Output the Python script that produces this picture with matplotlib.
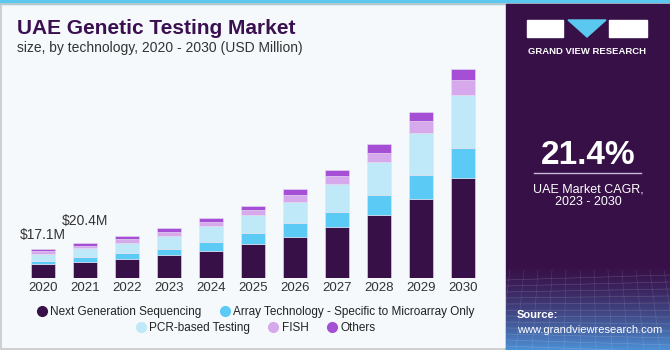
import numpy as np
import matplotlib.pyplot as plt
from matplotlib.patches import Rectangle, Polygon
from matplotlib.lines import Line2D

years = ['2020', '2021', '2022', '2023', '2024', '2025', '2026', '2027', '2028', '2029', '2030']
segments = ['Next Generation Sequencing', 'Array Technology - Specific to Microarray Only',
            'PCR-based Testing', 'FISH', 'Others']
ngs = [8.3, 9.4, 11.4, 13.6, 16.1, 20.2, 24.2, 29.9, 37.2, 46.6, 59.0]
array_tech = [1.9, 3.1, 3.5, 3.7, 5.3, 6.1, 8.0, 9.3, 11.6, 14.3, 17.9]
pcr = [4.1, 4.9, 5.9, 7.3, 9.0, 10.6, 12.8, 16.3, 19.5, 24.4, 30.9]
fish = [1.4, 1.6, 2.2, 2.6, 2.4, 3.0, 4.0, 4.9, 5.5, 7.1, 8.7]
others = [1.4, 1.4, 1.8, 2.4, 2.4, 2.8, 3.3, 3.4, 5.1, 5.7, 6.5]
colors = ['#371047', '#5bcbf5', '#bfe9f9', '#d5a9ec', '#a44fd6']
callouts = {0: '$17.1M', 1: '$20.4M'}

plt.rcParams['font.family'] = ['Liberation Sans', 'DejaVu Sans']

fig = plt.figure(figsize=(6.7, 3.5), dpi=100)
fig.patch.set_facecolor('#f5f9fc')

# frame, top band, right panel
bg = fig.add_axes([0, 0, 1, 1], zorder=-5)
bg.axis('off')
bg.add_patch(Rectangle((0, 0), 670, 4, color='#5bc8f0'))
bg.add_patch(Rectangle((0.5, 4), 669, 345, fill=False, ec='#c8c8c8', lw=1.2))
bg.add_patch(Rectangle((506, 4), 164, 346, color='#371047'))
grad = np.linspace(0, 1, 100)[:, None] ** 1.5
bg.imshow(np.dstack([0.22 + 0.08 * grad, 0.06 + 0.5 * grad, 0.28 + 0.55 * grad]) * np.ones((1, 2, 1)),
          extent=(506, 670, 350, 262), aspect='auto', zorder=1)
for k in range(12):
    bg.plot([506, 670], [280 + k * 6, 275 + k * 7], color='white', lw=0.4, alpha=0.2, zorder=2)
    bg.plot([510 + k * 14, 500 + k * 16], [270, 350], color='white', lw=0.4, alpha=0.15, zorder=2)
bg.set_xlim(0, 670)
bg.set_ylim(350, 0)

# logo
bg.add_patch(Rectangle((527, 20), 36, 17, color='white', zorder=3))
bg.add_patch(Polygon([(568, 20), (606, 20), (587, 37)], color='#5bc8f0', zorder=3))
bg.add_patch(Rectangle((609, 20), 38, 17, color='white', zorder=3))
bg.text(587, 51, 'GRAND VIEW RESEARCH', color='white', fontsize=6.8, fontweight='bold',
        ha='center', va='center', zorder=3)
bg.text(588, 156, '21.4%', color='white', fontsize=24, fontweight='bold', ha='center', va='center')
bg.plot([534, 641], [173, 173], color='#c9b8d8', lw=1)
bg.text(588, 190, 'UAE Market CAGR,', color='white', fontsize=9, ha='center', va='center')
bg.text(588, 202, '2023 - 2030', color='white', fontsize=9, ha='center', va='center')
bg.text(517, 315, 'Source:', color='white', fontsize=8, fontweight='bold', ha='left', va='center', zorder=3)
bg.text(517, 330, 'www.grandviewresearch.com', color='white', fontsize=8, ha='left', va='center', zorder=3)

# titles
fig.text(17 / 670, 1 - 29 / 350, 'UAE Genetic Testing Market', fontsize=15, fontweight='heavy',
         color='#3a1050', ha='left', va='center')
fig.text(17 / 670, 1 - 48 / 350, 'size, by technology, 2020 - 2030 (USD Million)', fontsize=10,
         color='#333333', ha='left', va='center')

# chart
ax = fig.add_axes([21.8 / 670, 72 / 350, 462 / 670, 0.654])
ax.set_facecolor('none')
x = np.arange(len(years))
bottom = np.zeros(len(years))
for vals, c, name in zip([ngs, array_tech, pcr, fish, others], colors, segments):
    ax.bar(x, vals, width=0.58, bottom=bottom, color=c, edgecolor='#e8e0f0', linewidth=0.4, label=name)
    bottom += np.array(vals)

for i, txt in callouts.items():
    off = 14 if i == 0 else 22
    ax.annotate(txt, (x[i], bottom[i]), xytext=(0, off), textcoords='offset pixels',
                ha='center', va='center', fontsize=10, color='#333333')

ax.set_xlim(-0.5, len(years) - 0.5)
ax.set_ylim(0, 135)
ax.set_xticks(x)
ax.set_xticklabels(years, fontsize=9.5, color='#333333')
ax.tick_params(axis='x', length=0, pad=3)
ax.set_yticks([])
for s in ax.spines.values():
    s.set_visible(False)

# legend
handles = [Line2D([], [], marker='o', ls='', color=c, markersize=7) for c in colors]
leg1 = fig.legend(handles[:2], segments[:2], loc='center', bbox_to_anchor=(255 / 670, 1 - 312 / 350),
                  ncol=2, frameon=False, fontsize=8.5, handletextpad=0.2, columnspacing=1.5, handlelength=1)
leg2 = fig.legend(handles[2:], segments[2:], loc='center', bbox_to_anchor=(255 / 670, 1 - 328 / 350),
                  ncol=3, frameon=False, fontsize=8.5, handletextpad=0.2, columnspacing=1.5, handlelength=1)
for leg in (leg1, leg2):
    for t in leg.get_texts():
        t.set_color('#222222')

fig.savefig('out.png', dpi=100, facecolor=fig.get_facecolor())
